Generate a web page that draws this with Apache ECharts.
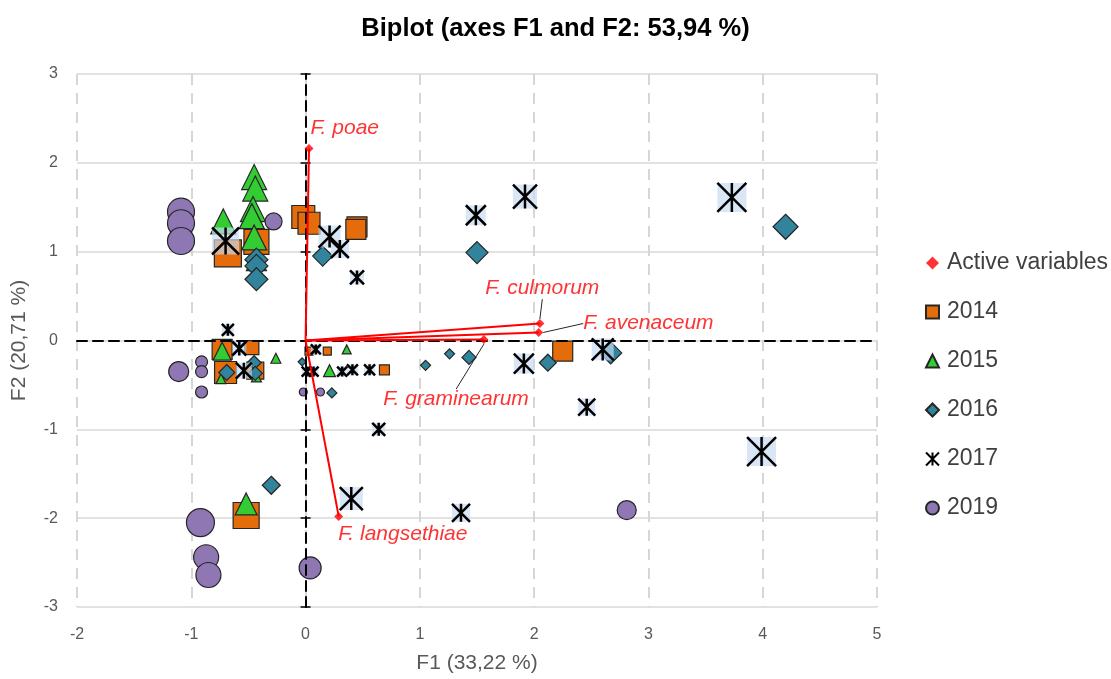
<!DOCTYPE html>
<html>
<head>
<meta charset="utf-8">
<title>Biplot</title>
<script src="https://cdn.jsdelivr.net/npm/echarts@6/dist/echarts.min.js"></script>
<style>
  html, body { margin: 0; padding: 0; background: #fff; }
  #chart { width: 1111px; height: 679px; }
</style>
</head>
<body>
<div id="chart"></div>
<script>
// active variables (vectors from the origin)
const varNames = ['F. poae', 'F. culmorum', 'F. avenaceum', 'F. graminearum', 'F. langsethiae'];
const varF1 = [0.03, 2.05, 2.04, 1.56, 0.29];
const varF2 = [2.16, 0.19, 0.09, 0.01, -1.98];

// observations per year: F1, F2 and bubble size
const f1_2014 = [-0.68, -0.43, -0.02, 0.03, 0.45, 0.44, -0.73, -0.47, -0.70, -0.44, 0.03, 0.19, 0.69, 2.25, -0.52];
const f2_2014 = [0.98, 1.11, 1.39, 1.32, 1.28, 1.25, -0.10, -0.08, -0.36, -0.34, -0.12, -0.12, -0.33, -0.12, -1.97];
const sz_2014 = [27, 25, 23, 22, 20, 20, 20, 14, 22, 17, 8, 8, 10, 20, 26];

const f1_2015 = [-0.45, -0.44, -0.46, -0.47, -0.45, -0.72, -0.43, -0.73, -0.26, -0.74, -0.43, 0.21, 0.36, -0.52];
const f2_2015 = [1.84, 1.71, 1.48, 1.40, 1.16, 1.34, 0.90, -0.12, -0.20, -0.43, -0.41, -0.34, -0.10, -1.84];
const sz_2015 = [25, 25, 25, 25, 25, 25, 20, 18, 10, 10, 10, 12, 9, 22];

const f1_2016 = [-0.43, -0.43, -0.43, 0.15, 1.50, 4.20, -0.69, -0.45, -0.44, -0.03, 0.23, 1.05, 1.26, 1.43, 2.12, 2.67, -0.30];
const f2_2016 = [0.91, 0.84, 0.69, 0.95, 0.99, 1.28, -0.36, -0.25, -0.37, -0.24, -0.59, -0.28, -0.15, -0.19, -0.25, -0.14, -1.63];
const sz_2016 = [23, 23, 23, 20, 22, 25, 16, 14, 14, 8, 10, 10, 10, 14, 17, 22, 18];

const f1_2017 = [-0.70, 0.21, 0.30, 0.45, 1.49, 1.92, 3.73, -0.68, -0.58, -0.54, 0.09, 0.01, 0.07, 0.32, 0.41, 0.56, 0.64, 1.91, 2.60, 2.46, 3.99, 0.40, 1.36];
const f2_2017 = [1.12, 1.17, 1.03, 0.71, 1.41, 1.62, 1.61, 0.12, -0.09, -0.34, -0.10, -0.35, -0.35, -0.35, -0.33, -0.33, -1.00, -0.26, -0.10, -0.75, -1.25, -1.78, -1.94];
const sz_2017 = [27, 22, 18, 14, 20, 24, 29, 12, 14, 16, 10, 10, 10, 10, 11, 11, 13, 20, 22, 17, 29, 23, 18];

const f1_2019 = [-1.09, -1.09, -1.09, -0.28, -1.11, -0.91, -0.91, -0.91, -0.02, 0.13, -0.92, -0.87, -0.85, 0.04, 2.81];
const f2_2019 = [1.45, 1.32, 1.12, 1.34, -0.35, -0.24, -0.35, -0.58, -0.58, -0.58, -2.05, -2.44, -2.64, -2.56, -1.91];
const sz_2019 = [27, 27, 27, 17, 20, 12, 12, 12, 8, 8, 28, 25, 25, 22, 19];

const legendNames = ['Active variables', '2014', '2015', '2016', '2017', '2019'];

// label placement of the active variables: [dx, dy, leader line]
const labelShift = [[-8, -20, false], [-64, -35, true], [35, -9, true], [-110, 60, true], [-10, 18, false]];

const FONT = 'Liberation Sans, Arial, sans-serif';
const ASTERISK = 'path://M0,0L10,10M10,0L0,10M5,0L5,10';

function pts(xs, ys, ss) {
  return xs.map((x, i) => [x, ys[i], ss[i]]);
}

function obsSeries(name, data, symbol, color) {
  return {
    name: name,
    type: 'scatter',
    data: data,
    symbol: symbol,
    symbolSize: v => v[2],
    itemStyle: { color: color, borderColor: '#262626', borderWidth: 1.2, opacity: 1 },
    emphasis: { disabled: true },
    z: 2
  };
}

const data2017 = pts(f1_2017, f2_2017, sz_2017);

const chart = echarts.init(document.getElementById('chart'));

chart.setOption({
  animation: false,
  title: {
    text: 'Biplot (axes F1 and F2: 53,94 %)',
    left: 'center',
    top: 11,
    textStyle: { fontSize: 25.5, fontWeight: 'bold', color: '#000', fontFamily: FONT }
  },
  legend: {
    orient: 'vertical',
    left: 920,
    top: 246,
    itemWidth: 13,
    itemHeight: 13,
    itemGap: 25,
    selectedMode: false,
    textStyle: { fontSize: 23, lineHeight: 24, color: '#404040', fontFamily: FONT, padding: [0, 0, 0, 3] },
    data: legendNames
  },
  grid: { left: 77, right: 234, top: 74, bottom: 71 },
  xAxis: [
    {
      type: 'value', min: -2, max: 5, interval: 1,
      name: 'F1 (33,22 %)', nameLocation: 'middle', nameGap: 46,
      nameTextStyle: { fontSize: 21, color: '#595959', fontFamily: FONT },
      axisLine: { show: false, onZero: false },
      axisTick: { show: false },
      axisLabel: { margin: 20, fontSize: 16, color: '#595959', fontFamily: FONT },
      splitLine: { show: true, lineStyle: { color: '#d6d6d6', width: 2, type: [11, 8] } }
    },
    {
      type: 'value', min: -2, max: 5, interval: 1,
      axisLine: { show: true, onZero: true, onZeroAxisIndex: 0, lineStyle: { color: '#000', width: 2, type: [10, 6] } },
      axisTick: { show: false },
      axisLabel: { show: false },
      splitLine: { show: false },
      z: 3
    }
  ],
  yAxis: [
    {
      type: 'value', min: -3, max: 3, interval: 1,
      name: 'F2 (20,71 %)', nameLocation: 'middle', nameGap: 47,
      nameTextStyle: { fontSize: 21, color: '#595959', fontFamily: FONT },
      axisLine: { show: false, onZero: false },
      axisTick: { show: false },
      axisLabel: { margin: 19, fontSize: 16, color: '#595959', fontFamily: FONT },
      splitLine: { show: true, lineStyle: { color: '#d9d9d9', width: 1.5 } }
    },
    {
      type: 'value', min: -3, max: 3, interval: 1, position: 'left',
      axisLine: { show: true, onZero: true, onZeroAxisIndex: 0, lineStyle: { color: '#000', width: 2, type: [10, 6] } },
      axisTick: { show: true, length: 5, lineStyle: { color: '#000', width: 1.5 } },
      axisLabel: { show: false },
      splitLine: { show: false },
      z: 3
    },
    {
      type: 'value', min: -3, max: 3, interval: 1, position: 'right',
      axisLine: { show: false, onZero: true, onZeroAxisIndex: 0 },
      axisTick: { show: true, length: 5, lineStyle: { color: '#000', width: 1.5 } },
      axisLabel: { show: false },
      splitLine: { show: false },
      z: 3
    }
  ],
  series: [
    obsSeries('2014', pts(f1_2014, f2_2014, sz_2014), 'rect', '#e46c0a'),
    obsSeries('2015', pts(f1_2015, f2_2015, sz_2015), 'triangle', '#33cc33'),
    obsSeries('2016', pts(f1_2016, f2_2016, sz_2016), 'diamond', '#31849b'),
    {
      name: '2017 bg',
      type: 'scatter',
      data: data2017,
      symbol: 'rect',
      symbolSize: v => v[2],
      itemStyle: { color: 'rgba(200,218,242,0.85)' },
      emphasis: { disabled: true },
      z: 2
    },
    {
      name: '2017',
      type: 'scatter',
      data: data2017,
      symbol: ASTERISK,
      symbolSize: v => v[2],
      itemStyle: { color: '#000', borderColor: '#000', borderWidth: 2.5, opacity: 1 },
      emphasis: { disabled: true },
      z: 2
    },
    obsSeries('2019', pts(f1_2019, f2_2019, sz_2019), 'circle', '#8e77b3'),
    {
      name: 'vectors',
      type: 'lines',
      coordinateSystem: 'cartesian2d',
      data: varF1.map((x, i) => ({ coords: [[0, 0], [x, varF2[i]]] })),
      lineStyle: { color: '#ff0000', width: 2, opacity: 1 },
      silent: true,
      z: 4
    },
    {
      name: 'Active variables',
      type: 'scatter',
      data: varF1.map((x, i) => ({
        name: varNames[i],
        value: [x, varF2[i]],
        labelLine: { show: labelShift[i][2], lineStyle: { color: '#262626', width: 1 } }
      })),
      symbol: 'diamond',
      symbolSize: 9,
      itemStyle: { color: '#ff0000' },
      label: {
        show: true,
        position: 'right',
        distance: 5,
        formatter: '{b}',
        color: '#ff0000',
        fontSize: 21,
        fontStyle: 'italic',
        fontFamily: FONT
      },
      labelLayout: p => ({ dx: labelShift[p.dataIndex][0], dy: labelShift[p.dataIndex][1] }),
      emphasis: { disabled: true },
      z: 5
    }
  ]
});
</script>
</body>
</html>
